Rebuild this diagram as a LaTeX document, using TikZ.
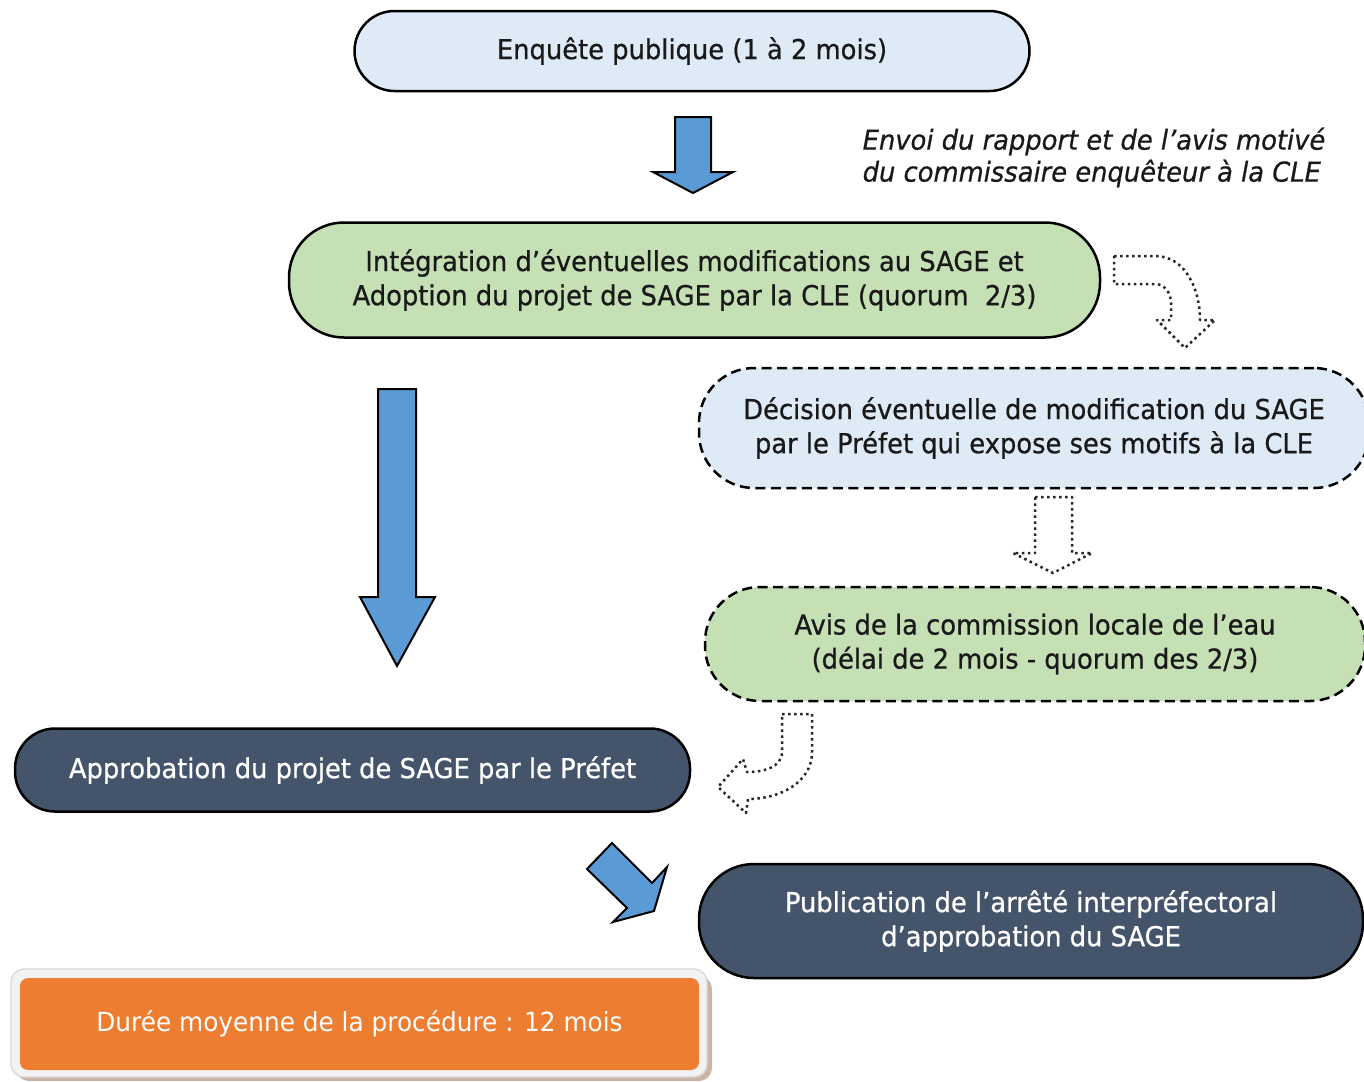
\documentclass[tikz,border=0pt]{standalone}
\usepackage{fontspec}
\setmainfont{DejaVu Sans}[FakeStretch = 0.94]
\newfontfamily\heavyfont{DejaVu Sans}[FakeStretch = 0.94, FakeBold = 0.7]

\definecolor{paleblue}{HTML}{DEEBF7}
\definecolor{palegreen}{HTML}{C5E0B4}
\definecolor{slate}{HTML}{44546A}
\definecolor{arrowblue}{HTML}{5B9BD5}
\definecolor{procorange}{HTML}{ED7D31}
\definecolor{framegrey}{HTML}{F2F2F2}
\definecolor{shadowbrown}{HTML}{C9B4A6}

\tikzset{
	stage/.style = {draw = black, line width = 0.25mm, align = center, inner sep = 0pt, text = black!90, font = \heavyfont\fontsize{7.8}{9.7}\selectfont},
	pending/.style = {stage, dash pattern = on 1mm off 0.55mm},
	final/.style = {stage, fill = slate, text = white},
	blockarrow/.style = {draw = black, line width = 0.2mm, fill = arrowblue, line join = miter},
	hollowarrow/.style = {draw = black!85, line width = 0.25mm, densely dotted, line join = round}
}

\begin{document}
\begin{tikzpicture}[x = 0.1mm, y = -0.1mm]

	% Page
	
	\useasboundingbox (0, 0) rectangle (1364, 1081);
	
	% Boxes
	
	\node (enquete) [stage, fill = paleblue, minimum width = 67.5mm, minimum height = 8mm, rounded corners = 4mm] at (692, 51) {Enquête publique (1 à 2 mois)};
	
	\node (envoi) [anchor = north west, align = left, inner sep = 0pt, text = black!90, font = \heavyfont\fontsize{7.8}{9.1}\selectfont\itshape] at (862, 127) {Envoi du rapport et de l’avis motivé\\du commissaire enquêteur à la CLE};
	
	\node (integration) [stage, fill = palegreen, minimum width = 81.1mm, minimum height = 11.5mm, rounded corners = 5.5mm] at (694.5, 280) {Intégration d’éventuelles modifications au SAGE et\\Adoption du projet de SAGE par la CLE (quorum\ \ 2/3)};
	
	\node (decision) [pending, fill = paleblue, minimum width = 67mm, minimum height = 12mm, rounded corners = 5.5mm] at (1034, 428) {Décision éventuelle de modification du SAGE\\par le Préfet qui expose ses motifs à la CLE};
	
	\node (avis) [pending, fill = palegreen, minimum width = 66mm, minimum height = 11.4mm, rounded corners = 5.5mm] at (1035, 644) {Avis de la commission locale de l’eau\\(délai de 2 mois - quorum des 2/3)};
	
	\node (approbation) [final, minimum width = 67.5mm, minimum height = 8.3mm, rounded corners = 4mm] at (352.5, 770) {Approbation du projet de SAGE par le Préfet};
	
	\node (publication) [final, minimum width = 66.4mm, minimum height = 11.4mm, rounded corners = 5.5mm] at (1031, 921) {Publication de l’arrêté interpréfectoral\\d’approbation du SAGE};
	
	% Duration
	
	\fill [shadowbrown, rounded corners = 1.3mm] (16, 976) rectangle (712, 1081);
	\draw [fill = framegrey, draw = black!15, rounded corners = 1.3mm] (11, 969) rectangle (707, 1077);
	\node (duree) [fill = procorange, text = white, inner sep = 0pt, minimum width = 67.9mm, minimum height = 9.2mm, rounded corners = 0.8mm, font = \fontsize{7.5}{9.7}\selectfont] at (359.5, 1024) {Durée moyenne de la procédure : 12 mois};
	
	% Blue arrows
	
	\draw [blockarrow] (675, 117) -- (711, 117) -- (711, 172) -- (733, 172) -- (693, 193) -- (653, 172) -- (675, 172) -- cycle;
	\draw [blockarrow] (378, 389) -- (416, 389) -- (416, 597) -- (435, 597) -- (397, 666) -- (360, 597) -- (378, 597) -- cycle;
	\draw [blockarrow] (612, 843) -- (652, 883) -- (667, 867) -- (654, 911) -- (613, 922) -- (627, 908) -- (587, 869) -- cycle;
	
	% Dotted arrows
	
	\draw [hollowarrow] (1114, 256) -- (1155, 256) to [out = 0, in = 90] (1200, 320) -- (1215, 320) -- (1185, 348) -- (1157, 320) -- (1171, 320) -- (1171, 303) to [out = 90, in = 0] (1155, 284) -- (1114, 284) -- cycle;
	\draw [hollowarrow] (1035, 497) -- (1072, 497) -- (1072, 553) -- (1092, 553) -- (1053, 573) -- (1013, 553) -- (1035, 553) -- cycle;
	\draw [hollowarrow] (782, 714) -- (812, 714) -- (812, 752) to [out = -90, in = 0] (748, 799) -- (746, 813) -- (718, 787) -- (743, 759) -- (747, 772) to [out = 0, in = -90] (782, 752) -- cycle;

\end{tikzpicture}
\end{document}
